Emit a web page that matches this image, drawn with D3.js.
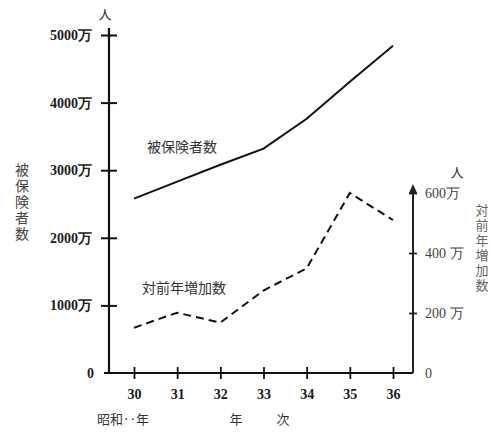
<!DOCTYPE html>
<html><head><meta charset="utf-8">
<script src="https://cdn.jsdelivr.net/npm/d3@7"></script>
<style>
body{margin:0;background:#fff;}
svg{display:block;}
.num{font-family:"Liberation Serif","DejaVu Serif",serif;font-size:14px;fill:#1a1a1a;font-weight:bold;}
.cjk{font-family:"Noto Sans CJK JP",sans-serif;fill:#333;}
.vert{writing-mode:vertical-rl;text-orientation:upright;}
</style></head>
<body>
<script>
const years = [30, 31, 32, 33, 34, 35, 36];
const insured = [2580, 2830, 3080, 3320, 3760, 4310, 4840];     // 被保険者数 (万人)
const increase = [151, 201, 168, 275, 349, 600, 510];          // 対前年増加数 (万人)
const leftTicks = [0, 1000, 2000, 3000, 4000, 5000];
const rightTicks = [0, 200, 400, 600];
const leftTickLabels = ["0", "1000万", "2000万", "3000万", "4000万", "5000万"];
const rightTickLabels = ["0", "200 万", "400 万", "600万"];

const W = 491, H = 436;
const svg = d3.select("body").append("svg").attr("width", W).attr("height", H);

const x = d3.scaleLinear().domain([30, 36]).range([134, 393]);
const yL = d3.scaleLinear().domain([0, 5000]).range([373, 35]);
const yR = d3.scaleLinear().domain([0, 600]).range([373, 193]);
const leftX = 109, rightX = 413, baseY = 373;

// Left axis
const gL = svg.append("g").attr("transform", `translate(${leftX},0)`)
  .call(d3.axisLeft(yL).tickValues(leftTicks).tickSizeInner(8).tickSizeOuter(0).tickPadding(9)
    .tickFormat((d, i) => leftTickLabels[i]));
gL.select(".domain").remove();
gL.append("line").attr("x1", 0).attr("x2", 0).attr("y1", 28).attr("y2", baseY)
  .attr("stroke", "#111").attr("stroke-width", 2.2);
gL.selectAll(".tick line").attr("x1", -8).attr("x2", 8).attr("stroke", "#111").attr("stroke-width", 2)
  .filter(d => d === 0).remove();
gL.selectAll(".tick text").attr("class", "num").attr("fill", null);
gL.selectAll(".tick").filter(d => d === 0).select("text").attr("x", -15);

// X axis
const gX = svg.append("g").attr("transform", `translate(0,${baseY})`)
  .call(d3.axisBottom(x).tickValues(years).tickSizeInner(6).tickSizeOuter(0).tickPadding(10)
    .tickFormat(d3.format("d")));
gX.select(".domain").remove();
gX.append("line").attr("x1", 104).attr("x2", rightX).attr("y1", 0).attr("y2", 0)
  .attr("stroke", "#111").attr("stroke-width", 2);
gX.selectAll(".tick line").attr("y1", -6).attr("y2", 6).attr("stroke", "#111").attr("stroke-width", 1.8);
gX.selectAll(".tick text").attr("class", "num").attr("fill", null);

// Right axis
const gR = svg.append("g").attr("transform", `translate(${rightX},0)`)
  .call(d3.axisRight(yR).tickValues(rightTicks).tickSizeInner(5).tickSizeOuter(0).tickPadding(7)
    .tickFormat((d, i) => rightTickLabels[i]));
gR.select(".domain").remove();
gR.append("line").attr("x1", 0).attr("x2", 0).attr("y1", 186).attr("y2", baseY)
  .attr("stroke", "#222").attr("stroke-width", 2);
gR.append("path").attr("d", "M-4,193 L0,184 L4,193 Z").attr("fill", "#222");
gR.selectAll(".tick line").attr("x1", -4).attr("x2", 4).attr("stroke", "#222").attr("stroke-width", 1.8)
  .filter(d => d === 0).remove();
gR.selectAll(".tick text").attr("class", "num").attr("fill", null).style("fill", "#444").style("font-weight", "normal");

// Lines
const lineL = d3.line().x((d, i) => x(years[i])).y(d => yL(d));
const lineR = d3.line().x((d, i) => x(years[i])).y(d => yR(d));
svg.append("path").datum(insured).attr("d", lineL).attr("fill", "none")
  .attr("stroke", "#111").attr("stroke-width", 2);
svg.append("path").datum(increase).attr("d", lineR).attr("fill", "none")
  .attr("stroke", "#111").attr("stroke-width", 2).attr("stroke-dasharray", "8,5");

// Texts
function txt(t, xx, yy, size, anchor) {
  return svg.append("text").attr("class", "cjk").attr("x", xx).attr("y", yy)
    .attr("font-size", size).attr("text-anchor", anchor || "start").text(t);
}
txt("人", 105, 19, 13, "middle");
txt("人", 457, 177, 13, "middle");
txt("被保険者数", 147, 152, 14);
txt("対前年増加数", 142, 293, 14);
// vertical titles
txt("被保険者数", 22, 163, 14).attr("class", "cjk vert").style("letter-spacing", "2px").style("fill", "#444");
txt("対前年増加数", 482, 204, 13).attr("class", "cjk vert").style("letter-spacing", "2px").style("fill", "#666");
txt("昭和‥年", 97, 424, 13);
txt("年", 236, 424, 13, "middle");
txt("次", 283, 424, 13, "middle");
</script>
</body></html>
